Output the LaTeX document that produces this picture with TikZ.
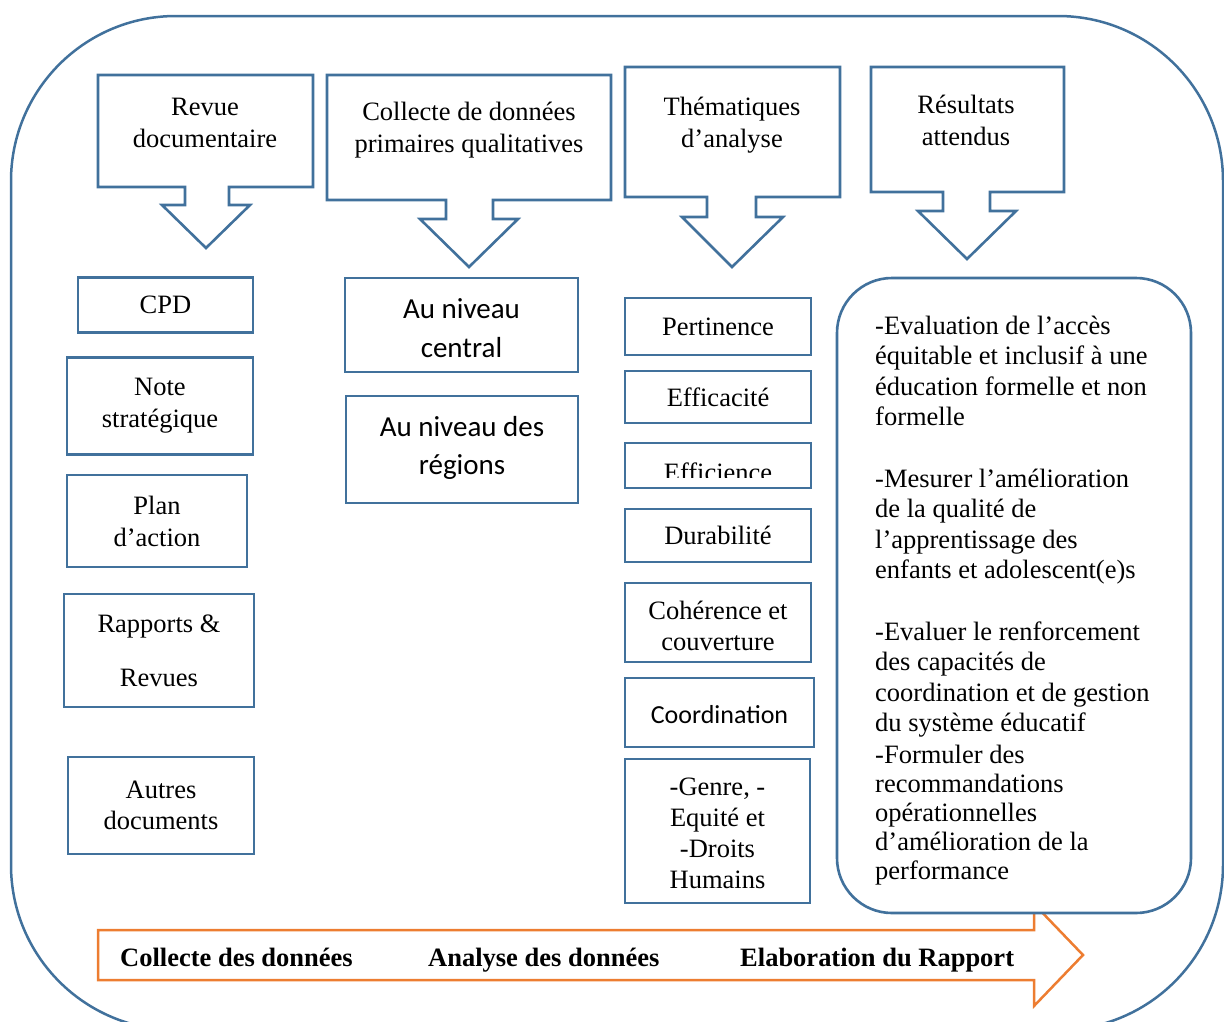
\documentclass[tikz,border=0pt]{standalone}
\usepackage{fontspec}
\setmainfont{Liberation Serif}
\newfontfamily\calib{Carlito}
\definecolor{bl}{HTML}{41719C}
\definecolor{orng}{HTML}{ED7D31}
\begin{document}
\begin{tikzpicture}[x=1pt,y=-1pt,
  bx/.style={draw=bl,line width=2.6pt,fill=white,inner sep=0pt,align=center,
    font=\fontsize{26.5}{32}\selectfont},
  co/.style={draw=bl,line width=2.6pt,line join=miter,fill=white},
  txt/.style={inner sep=0pt,align=center,font=\fontsize{26.5}{32}\selectfont},
  rtxt/.style={inner sep=0pt,align=left,anchor=west,font=\fontsize{26.5}{30.6}\selectfont},
  btxt/.style={inner sep=0pt,anchor=base west,font=\fontsize{26.5}{30}\selectfont\bfseries},
  sans/.style={font=\fontsize{29}{39}\selectfont\calib}]
\useasboundingbox (0,0) rectangle (1224,1021);
% outer frame
\draw[bl,line width=2.5pt,rounded corners=165pt] (11,16) rectangle (1223,1030);

% callouts
\draw[co] (98,75) -- (313,75) -- (313,187) -- (229,187) -- (229,205) -- (250,205) -- (206,248) -- (162,205) -- (185,205) -- (185,187) -- (98,187) -- cycle;
\node[txt] (revue) at (205,122.5) {Revue\\documentaire};
\draw[co] (327,75) -- (611,75) -- (611,200) -- (493,200) -- (493,219) -- (518,219) -- (469,267) -- (420,219) -- (446,219) -- (446,200) -- (327,200) -- cycle;
\node[txt] (collecte) at (469,130) {Collecte de données\\primaires qualitatives};
\draw[co] (625,67) -- (840,67) -- (840,197) -- (756,197) -- (756,217) -- (783,217) -- (732,267) -- (682,217) -- (707,217) -- (707,197) -- (625,197) -- cycle;
\node[txt] (thema) at (732,125) {Thématiques\\d’analyse};
\draw[co] (871,67) -- (1064,67) -- (1064,192) -- (990,192) -- (990,211) -- (1016,211) -- (967,259) -- (918,211) -- (943,211) -- (943,192) -- (871,192) -- cycle;
\node[txt] (resul) at (966,120) {Résultats\\attendus};

% left column
\node[bx,minimum width=175pt,minimum height=55pt] (cpd) at (165.5,305) {CPD};
\node[bx,minimum width=186pt,minimum height=97pt] (note) at (160,406) {Note\\stratégique};
\node[bx,minimum width=180pt,minimum height=92pt] (plan) at (157,521) {Plan\\d’action};
\node[bx,minimum width=190pt,minimum height=113pt,font=\fontsize{26.5}{54}\selectfont] (rapp) at (159,650.5) {Rapports \&\\Revues};
\node[bx,minimum width=186pt,minimum height=97pt,font=\fontsize{26.5}{31}\selectfont] (autres) at (161,805.5) {Autres\\documents};

% middle column
\node[bx,minimum width=233pt,minimum height=94pt] (central) at (461.5,325) {};
\node[txt,sans] (centraltxt) at (461.5,328) {Au niveau\\central};
\node[bx,minimum width=232pt,minimum height=107pt] (regions) at (462,449.5) {};
\node[txt,font=\fontsize{29}{38}\selectfont\calib] (regionstxt) at (462,447.5) {Au niveau des\\régions};

% thematic column
\node[bx,minimum width=186pt,minimum height=57pt] (pert) at (718,326.5) {Pertinence};
\node[bx,minimum width=186pt,minimum height=52pt] (effic) at (718,397) {Efficacité};
\node[bx,minimum width=186pt,minimum height=45pt] (effi) at (718,465.5) {};
\begin{scope}
\clip (625,443) rectangle (811,477.5);
\node[txt,anchor=base] (effitxt) at (718,481) {Efficience};
\end{scope}
\node[bx,minimum width=186pt,minimum height=53pt] (dura) at (718,535.5) {Durabilité};
\node[bx,minimum width=186pt,minimum height=79pt] (coher) at (718,622.5) {};
\node[txt,font=\fontsize{26.5}{31}\selectfont] (cohertxt) at (718,625.5) {Cohérence et\\couverture};
\node[bx,minimum width=189pt,minimum height=69pt] (coord) at (719.5,712.5) {};
\node[txt,font=\fontsize{26}{31}\selectfont\calib] (coordtxt) at (719.5,714.5) {Coordination};
\node[bx,minimum width=185pt,minimum height=144pt] (genre) at (717.5,831) {};
\node[txt,font=\fontsize{26.5}{31}\selectfont] (genretxt) at (717.5,833) {-Genre, -\\Equité et\\-Droits\\Humains};

% bottom process arrow
\draw[orng,line width=2.5pt,line join=miter,fill=white] (98,930) -- (1034,930) -- (1034,904) -- (1083,955) -- (1034,1006) -- (1034,980) -- (98,980) -- cycle;
\node[btxt] (b1) at (120,966) {Collecte des données};
\node[btxt] (b2) at (428,966) {Analyse des données};
\node[btxt] (b3) at (740,966) {Elaboration du Rapport};

% results box
\draw[bl,line width=2.6pt,fill=white,rounded corners=55pt] (837,278) rectangle (1191,913);
\node[rtxt] (r1) at (875,371) {-Evaluation de l’accès\\équitable et inclusif à une\\éducation formelle et non\\formelle};
\node[rtxt] (r2) at (875,526.5) {-Mesurer l’amélioration\\de la qualité de\\l’apprentissage des\\enfants et adolescent(e)s};
\node[rtxt] (r3) at (875,679.5) {-Evaluer le renforcement\\des capacités de\\coordination et de gestion\\du système éducatif};
\node[rtxt,font=\fontsize{26.5}{29}\selectfont] (r4) at (875,815) {-Formuler des\\recommandations\\opérationnelles\\d’amélioration de la\\performance};
\end{tikzpicture}
\end{document}
